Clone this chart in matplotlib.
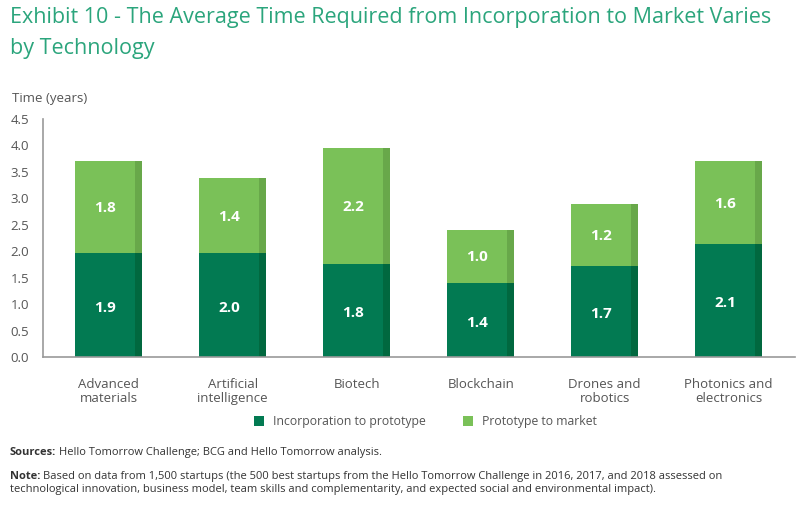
import matplotlib.pyplot as plt
from matplotlib.patches import Rectangle

# data
categories = ["Advanced\nmaterials", "Artificial\nintelligence", "Biotech",
              "Blockchain", "Drones and\nrobotics", "Photonics and\nelectronics"]
incorp_to_proto = [1.97, 1.97, 1.76, 1.40, 1.73, 2.13]
proto_to_market = [1.73, 1.41, 2.19, 1.01, 1.17, 1.57]
incorp_labels = ["1.9", "2.0", "1.8", "1.4", "1.7", "2.1"]
market_labels = ["1.8", "1.4", "2.2", "1.0", "1.2", "1.6"]
yticks = [0.0, 0.5, 1.0, 1.5, 2.0, 2.5, 3.0, 3.5, 4.0, 4.5]

DARK = "#027A52"
DARK_EDGE = "#01683F"
LIGHT = "#7AC158"
LIGHT_EDGE = "#68A84A"
GREY = "#555555"
TITLE = "#2BA57C"

plt.rcParams["font.family"] = ["Open Sans", "DejaVu Sans"]

fig = plt.figure(figsize=(8, 5.13), dpi=100)
ax = fig.add_axes([0.054, 0.304, 0.94, 0.464])

x = list(range(len(categories)))
width = 0.54
strip = 0.058

ax.bar(x, incorp_to_proto, width=width, color=DARK, label="Incorporation to prototype")
ax.bar(x, proto_to_market, width=width, bottom=incorp_to_proto, color=LIGHT,
       label="Prototype to market")

# darker strip on the right edge of each bar + value labels
for i in x:
    right = i + width / 2 - strip
    ax.add_patch(Rectangle((right, 0), strip, incorp_to_proto[i], color=DARK_EDGE, lw=0))
    ax.add_patch(Rectangle((right, incorp_to_proto[i]), strip, proto_to_market[i],
                           color=LIGHT_EDGE, lw=0))
    ax.text(i - strip / 2, incorp_to_proto[i] / 2 - 0.05, incorp_labels[i], ha="center",
            va="center", color="white", fontsize=11, fontweight="bold")
    ax.text(i - strip / 2, incorp_to_proto[i] + proto_to_market[i] / 2 - 0.02,
            market_labels[i], ha="center", va="center", color="white",
            fontsize=11, fontweight="bold")

ax.set_xlim(-0.528, 5.536)
ax.set_ylim(0, 4.5)
ax.set_yticks(yticks)
ax.set_yticklabels([f"{t:.1f}" for t in yticks])
ax.set_xticks(x)
ax.set_xticklabels(categories, linespacing=1.1)
ax.tick_params(length=0, colors=GREY, labelsize=9.5)
ax.tick_params(axis="y", pad=10)
ax.tick_params(axis="x", pad=15)
for s in ["top", "right"]:
    ax.spines[s].set_visible(False)
for s in ["left", "bottom"]:
    ax.spines[s].set_color("#999999")
    ax.spines[s].set_linewidth(1.2)

fig.text(0.015, 0.808, "Time (years)", color=GREY, fontsize=9.5, va="center")

fig.text(0.012, 0.965, "Exhibit 10 - The Average Time Required from Incorporation to Market Varies",
         color=TITLE, fontsize=15.5, va="center")
fig.text(0.012, 0.905, "by Technology", color=TITLE, fontsize=15.5, va="center")

leg = fig.legend(loc="center", bbox_to_anchor=(0.532, 0.178), ncol=2, frameon=False,
                 fontsize=8.8, handlelength=0.8, handleheight=0.8, columnspacing=3.0,
                 handletextpad=0.8)
for t in leg.get_texts():
    t.set_color(GREY)


def label_line(y, bold, rest):
    head = fig.text(0.012, y, bold, color="#333333", fontsize=8, fontweight="bold",
                    va="center")
    fig.canvas.draw()
    bb = head.get_window_extent().transformed(fig.transFigure.inverted())
    fig.text(bb.x1 + 0.004, y, rest, color="#333333", fontsize=8, va="center")


label_line(0.118, "Sources:", "Hello Tomorrow Challenge; BCG and Hello Tomorrow analysis.")
label_line(0.072, "Note:", "Based on data from 1,500 startups (the 500 best startups from the "
           "Hello Tomorrow Challenge in 2016, 2017, and 2018 assessed on")
fig.text(0.012, 0.045, "technological innovation, business model, team skills and complementarity, "
         "and expected social and environmental impact).",
         color="#333333", fontsize=8, va="center")

fig.savefig("out.png", dpi=100)
